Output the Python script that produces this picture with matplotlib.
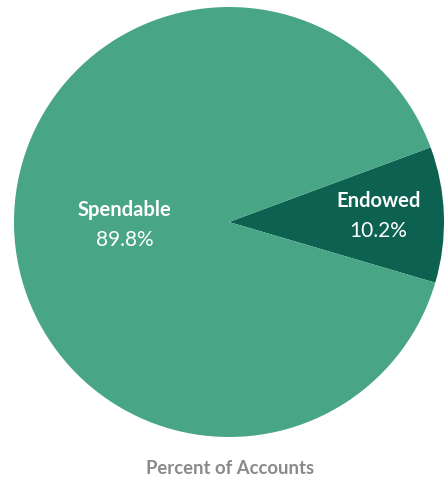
import numpy as np
import matplotlib.pyplot as plt

plt.rcParams['font.family'] = ['Lato', 'DejaVu Sans']

labels = ['Endowed', 'Spendable']
shares = [10.2, 89.8]
colors = ['#0d6150', '#48a585']
title = 'Percent of Accounts'

W, H = 444, 478
fig = plt.figure(figsize=(W / 100, H / 100), dpi=100)
ax = fig.add_axes([0, 0, 1, 1])

# work in pixel units: pie centre at (229, 222) from top-left
cx, cy, r = 229, 222, 215

start = -16.4
wedges, _ = ax.pie(shares, colors=colors, startangle=start, radius=r,
                   counterclock=True, wedgeprops=dict(linewidth=0))

ax.set_xlim(-cx, W - cx)
ax.set_ylim(-(H - cy), cy)
ax.set_aspect('equal')
ax.axis('off')

# label placement at wedge mid-angles
dists = [0.695, 0.485]
for w, lab, val, d in zip(wedges, labels, shares, dists):
    mid = np.deg2rad((w.theta1 + w.theta2) / 2)
    x, y = d * r * np.cos(mid), d * r * np.sin(mid)
    ax.text(x, y + 16, lab, ha='center', va='center', color='white',
            fontsize=14.5, fontweight='bold')
    ax.text(x, y - 14, f'{val:.1f}%', ha='center', va='center', color='white',
            fontsize=15)

ax.text(230 - cx, cy - 469, title, ha='center', va='center', color='#8a8a8a',
        fontsize=13.3, fontweight='bold')

fig.savefig('out.png', dpi=100)
